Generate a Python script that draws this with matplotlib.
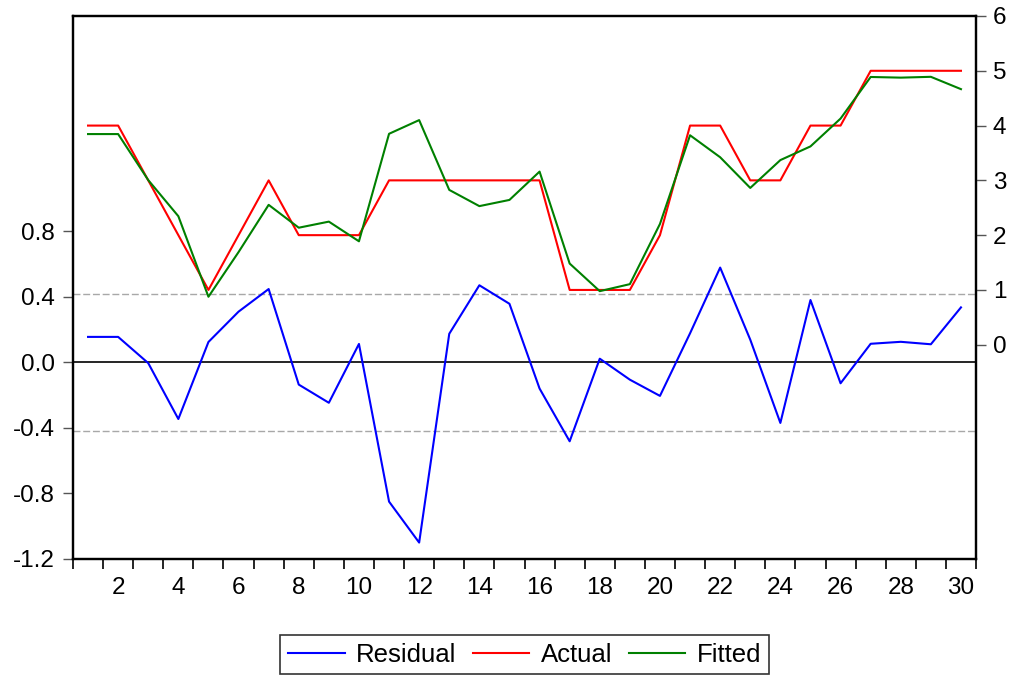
import numpy as np
import matplotlib
matplotlib.use('Agg')
import matplotlib.pyplot as plt
from matplotlib.ticker import FixedLocator, FormatStrFormatter

plt.rcParams['font.family'] = ['Liberation Sans', 'DejaVu Sans']
plt.rcParams['axes.unicode_minus'] = False

# observations
obs = np.arange(1, 31)

actual = [4, 4, 3, 2, 1, 2, 3, 2, 2, 2, 3, 3, 3, 3, 3,
          3, 1, 1, 1, 2, 4, 4, 3, 3, 4, 4, 5, 5, 5, 5]

fitted = [3.845, 3.845, 3.005, 2.346, 0.876, 1.691, 2.553, 2.136, 2.247, 1.888,
          3.850, 4.100, 2.826, 2.530, 2.643, 3.160, 1.482, 0.978, 1.106, 2.205,
          3.823, 3.422, 2.862, 3.370, 3.620, 4.128, 4.887, 4.875, 4.890, 4.665]

residual = [0.155, 0.155, -0.005, -0.346, 0.124, 0.309, 0.447, -0.136, -0.247, 0.112,
            -0.850, -1.100, 0.174, 0.470, 0.357, -0.160, -0.482, 0.022, -0.106, -0.205,
            0.177, 0.578, 0.138, -0.370, 0.380, -0.128, 0.113, 0.125, 0.110, 0.335]

# standard error of regression, used for the dashed band
se = 0.417

fig = plt.figure(figsize=(10.11, 6.75), dpi=100)
ax = fig.add_axes([0.0722, 0.1719, 0.8932, 0.8044])
ax2 = ax.twinx()

# residual panel on the left axis
ax.axhline(0, color='black', lw=1.2, zorder=1)
ax.axhline(se, color='#a8a8a8', lw=1.0, ls=(0, (5, 2)), zorder=1)
ax.axhline(-se, color='#a8a8a8', lw=1.0, ls=(0, (5, 2)), zorder=1)
l1, = ax.plot(obs, residual, color='#0000ff', lw=1.5, label='Residual')

ax.set_xlim(0.5, 30.5)
ax.set_ylim(-1.2, 2.113)
ax.yaxis.set_major_locator(FixedLocator([-1.2, -0.8, -0.4, 0.0, 0.4, 0.8]))
ax.yaxis.set_major_formatter(FormatStrFormatter('%.1f'))

# actual and fitted on the right axis
l2, = ax2.plot(obs, actual, color='#ff0000', lw=1.5, label='Actual')
l3, = ax2.plot(obs, fitted, color='#008000', lw=1.5, label='Fitted')
ax2.set_ylim(-3.91, 6)
ax2.yaxis.set_major_locator(FixedLocator([0, 1, 2, 3, 4, 5, 6]))

# x ticks: marks between observations, labels on even ones
ax.xaxis.set_major_locator(FixedLocator(np.arange(2, 31, 2)))
ax.xaxis.set_minor_locator(FixedLocator(np.arange(0.5, 31, 1)))
ax.tick_params(axis='x', which='major', length=0, pad=13, labelsize=17.5)
ax.tick_params(axis='x', which='minor', length=7.2, width=1.2, direction='out')
ax.tick_params(axis='y', length=7.2, width=1.0, color='#555555', labelsize=17.5, pad=6)
ax2.tick_params(axis='y', length=7.2, width=1.0, color='#555555', labelsize=17.5, pad=5)

for a in (ax, ax2):
    for s in a.spines.values():
        s.set_linewidth(1.6)
        s.set_color('black')

leg = fig.legend(handles=[l1, l2, l3], loc='lower center',
                 bbox_to_anchor=(0.0722 + 0.8932 / 2, -0.018), ncol=3,
                 fontsize=18.5, frameon=True, fancybox=False, handlelength=2.2,
                 borderpad=0.3, columnspacing=0.66, handletextpad=0.43)
leg.get_frame().set_edgecolor('black')
leg.get_frame().set_linewidth(1.2)

fig.savefig('out.png', dpi=100)
